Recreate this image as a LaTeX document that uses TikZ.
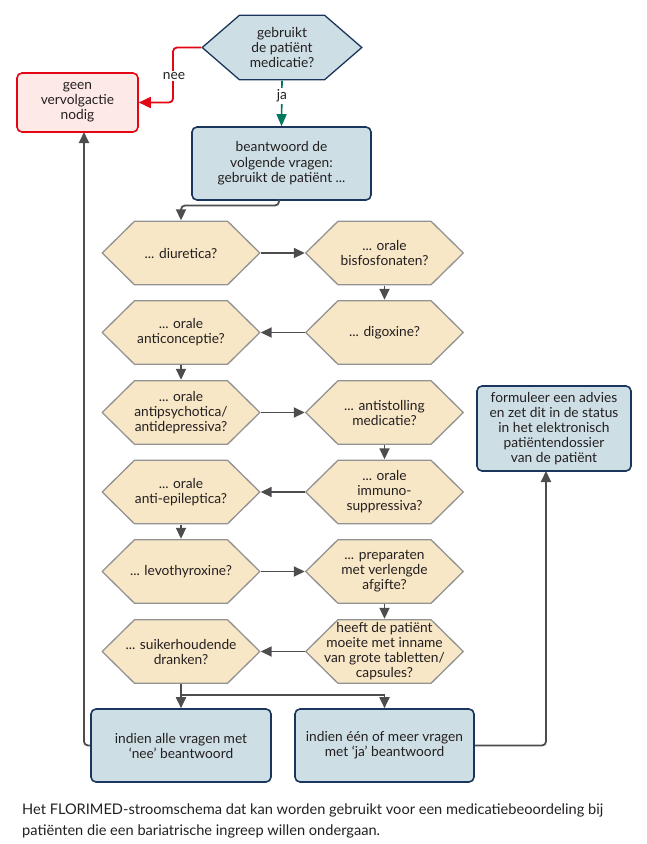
\documentclass[tikz,border=0pt]{standalone}
\usepackage{fontspec}
\setmainfont{Lato}
\usetikzlibrary{arrows.meta,calc}
\definecolor{navy}{HTML}{1B365D}
\definecolor{bluefill}{HTML}{CDDFE5}
\definecolor{hexfill}{HTML}{F8E7C6}
\definecolor{hexline}{HTML}{929292}
\definecolor{redline}{HTML}{E30613}
\definecolor{redfill}{HTML}{FDE9E6}
\definecolor{greenline}{HTML}{00785F}
\definecolor{arrgray}{HTML}{4D4D4D}
\definecolor{textc}{HTML}{231F20}
\tikzset{
  hexshape/.style n args={3}{inner sep=0pt, align=center, text=textc,
    path picture={\path[fill=#2, draw=#3, line width=1.3pt]
      ([xshift=0.7pt]path picture bounding box.west)
      -- ([xshift=#1, yshift=-0.7pt]path picture bounding box.north west)
      -- ([xshift=-#1, yshift=-0.7pt]path picture bounding box.north east)
      -- ([xshift=-0.7pt]path picture bounding box.east)
      -- ([xshift=-#1, yshift=0.7pt]path picture bounding box.south east)
      -- ([xshift=#1, yshift=0.7pt]path picture bounding box.south west)
      -- cycle;}},
  hexa/.style={hexshape={33pt}{hexfill}{hexline}, minimum width=159pt, minimum height=65pt},
  tophex/.style={hexshape={38pt}{bluefill}{navy}, minimum width=161pt, minimum height=66pt},
  bluebox/.style={draw=navy, fill=bluefill, line width=1.6pt, rounded corners=5pt,
    align=center, inner sep=0pt, text=textc},
  redbox/.style={draw=redline, fill=redfill, line width=1.6pt, rounded corners=5pt,
    align=center, inner sep=0pt, text=textc},
  arr/.style={draw=arrgray, line width=1.8pt, rounded corners=4pt,
    -{Triangle[length=11pt,width=10pt]}},
  plainline/.style={draw=arrgray, line width=1.8pt},
  redarr/.style={draw=redline, line width=1.8pt, rounded corners=4pt,
    -{Triangle[length=12pt,width=11pt]}},
  greenarr/.style={draw=greenline, line width=1.6pt,
    -{Triangle[length=12pt,width=10pt]}},
  lab/.style={fill=white, inner sep=1.5pt, text=textc}
}
\begin{document}
\begin{tikzpicture}[x=1pt,y=-1pt, font=\fontsize{13.75}{15}\selectfont]
\useasboundingbox (0,0) rectangle (647,844);

\node[tophex] (q0) at (282,47.5) {gebruikt\\de patiënt\\medicatie?};
\node[redbox, minimum width=121pt, minimum height=59pt] (none) at (77.5,102.5) {geen\\vervolgactie\\nodig};
\node[bluebox, minimum width=179pt, minimum height=73pt, font=\fontsize{13.75}{15.5}\selectfont] (ask) at (281.5,163.5) {beantwoord de\\volgende vragen:\\gebruikt de patiënt ...};

\node[hexa] (h1) at (181,253) {... diuretica?};
\node[hexa] (h2) at (384.5,253) {... orale\\bisfosfonaten?};
\node[hexa] (h3) at (384.5,332.5) {... digoxine?};
\node[hexa] (h4) at (181,332.5) {... orale\\anticonceptie?};
\node[hexa] (h5) at (181,412.5) {... orale\\antipsychotica/\\antidepressiva?};
\node[hexa] (h6) at (384.5,412.5) {... antistolling\\medicatie?};
\node[hexa] (h7) at (384.5,492) {... orale\\immuno-\\suppressiva?};
\node[hexa] (h8) at (181,492) {... orale\\anti-epileptica?};
\node[hexa] (h9) at (181,571.5) {... levothyroxine?};
\node[hexa] (h10) at (384.5,571.5) {... preparaten\\met verlengde\\afgifte?};
\node[hexa] (h11) at (384.5,651.5) {heeft de patiënt\\moeite met inname\\van grote tabletten/\\capsules?};
\node[hexa] (h12) at (181,651.5) {... suikerhoudende\\dranken?};

\node[bluebox, minimum width=180pt, minimum height=73pt] (bl) at (181,745.5) {indien alle vragen met\\‘nee’ beantwoord};
\node[bluebox, minimum width=179pt, minimum height=73pt] (br) at (384.5,745.5) {indien één of meer vragen\\met ‘ja’ beantwoord};
\node[bluebox, minimum width=154pt, minimum height=85pt] (adv) at (554,428.5) {formuleer een advies\\en zet dit in de status\\in het elektronisch\\patiëntendossier\\van de patiënt};

\node[anchor=north west, align=left, inner sep=0pt, text=textc,
  font=\fontsize{14.6}{21}\selectfont] (cap) at (22,804)
  {Het FLORIMED-stroomschema dat kan worden gebruikt voor een medicatiebeoordeling bij\\patiënten die een bariatrische ingreep willen ondergaan.};

% connectors
\coordinate (neebend) at (173,47.5);
\draw[redarr] (q0.west) -- (neebend) |- (none.east);
\node[lab] (neelab) at (174,76) {nee};
\draw[greenarr] (q0.south) -- (ask.north);
\node[lab] (jalab) at (282,96) {ja};

\coordinate (askout) at (279,199.5);
\draw[arr] (askout) -- ++(0,6) -| (h1.north);

\draw[arr] (h1.east) -- (h2.west);
\draw[arr] (h2.south) -- (h3.north);
\draw[arr] (h3.west) -- (h4.east);
\draw[arr] (h4.south) -- (h5.north);
\draw[arr] (h5.east) -- (h6.west);
\draw[arr] (h6.south) -- (h7.north);
\draw[arr] (h7.west) -- (h8.east);
\draw[arr] (h8.south) -- (h9.north);
\draw[arr] (h9.east) -- (h10.west);
\draw[arr] (h10.south) -- (h11.north);
\draw[arr] (h11.west) -- (h12.east);

\coordinate (split) at (181,695);
\draw[plainline] (h12.south) -- (split);
\draw[arr] (split) -- (bl.north);
\draw[arr, rounded corners=0pt] (split) -| (br.north);

\coordinate (lup) at (84,132);
\draw[arr] (bl.west) -| (lup);
\coordinate (rup) at (546,471);
\draw[arr] (br.east) -| (rup);
\end{tikzpicture}
\end{document}
